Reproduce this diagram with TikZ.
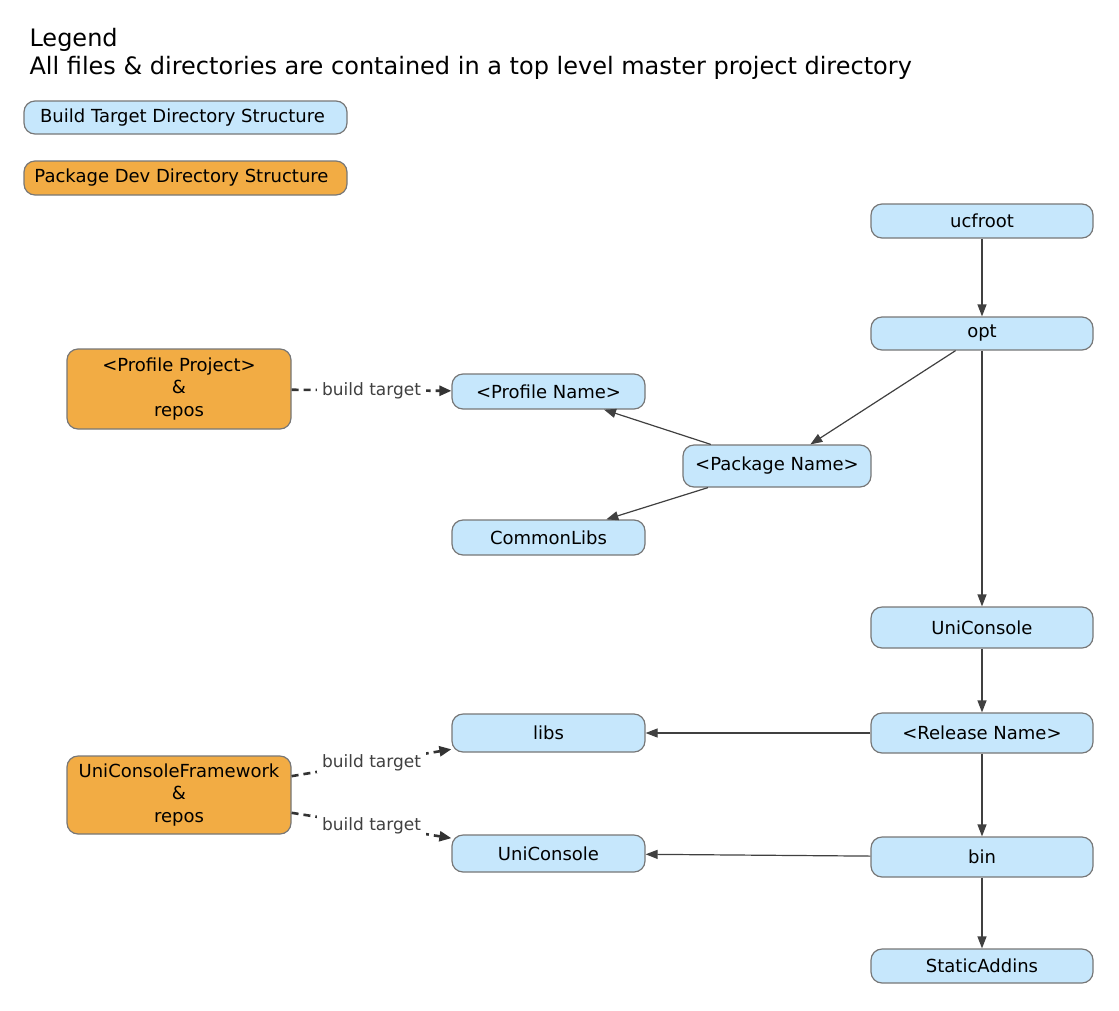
\documentclass[tikz,border=0pt]{standalone}
\usepackage{fontspec}
\setmainfont{DejaVu Sans}
\usetikzlibrary{arrows.meta}
\definecolor{dirblue}{RGB}{198,231,252}
\definecolor{devorange}{RGB}{242,172,68}
\definecolor{boxline}{RGB}{119,119,119}
\definecolor{edgegray}{RGB}{64,64,64}
\definecolor{dashgray}{RGB}{51,51,51}

\begin{document}
\begin{tikzpicture}[x=1pt,y=-1pt,
    dirbox/.style={draw=boxline,line width=1.2pt,fill=dirblue,rounded corners=11pt,
      minimum width=222pt,minimum height=34pt,inner sep=0pt,align=center,
      font=\fontsize{18}{22.5}\selectfont},
    devbox/.style={dirbox,fill=devorange,minimum width=224pt},
    tree/.style={draw=edgegray,line width=1.2pt,-{Triangle[length=12pt,width=9pt]}},
    buildtarget/.style={draw=dashgray,line width=2.6pt,dash pattern=on 7pt off 5pt,
      -{Triangle[length=12pt,width=10pt]}},
    targetlabel/.style={fill=white,text=edgegray,inner xsep=5pt,inner ysep=2pt,
      font=\fontsize{17}{20}\selectfont}]
      \useasboundingbox (0,0) rectangle (1119,1010);

      % legend
      \node [anchor=base west,font=\fontsize{24}{28}\selectfont] (legendtitle) at (26,46) {Legend};
      \node [anchor=base west,font=\fontsize{24}{28}\selectfont] (legendnote) at (26,74.5)
        {All files \& directories are contained in a top level master project directory};
      \node [dirbox,minimum width=323pt,minimum height=33pt] (legendblue) at (185.5,117.5) {Build Target Directory Structure\hspace{6pt}};
      \node [devbox,minimum width=323pt,minimum height=34pt] (legendorange) at (185.5,178) {Package Dev Directory Structure\hspace{8pt}};

      % build target tree
      \node [dirbox] (ucfroot) at (982,221) {ucfroot};
      \node [dirbox,minimum height=33pt] (opt) at (982,333.5) {opt};
      \node [dirbox,minimum width=188pt,minimum height=42pt] (pkgname) at (777,466) {<Package Name>};
      \node [dirbox,minimum width=193pt,minimum height=35pt] (profname) at (548.5,391.5) {<Profile Name>};
      \node [dirbox,minimum width=193pt,minimum height=35pt] (commonlibs) at (548.5,537.5) {CommonLibs};
      \node [dirbox,minimum height=41pt] (uniconsole) at (982,627.5) {UniConsole};
      \node [dirbox,minimum height=40pt] (relname) at (982,733) {<Release Name>};
      \node [dirbox,minimum width=193pt,minimum height=38pt] (libs) at (548.5,733) {libs};
      \node [dirbox,minimum height=40pt] (bin) at (982,857) {bin};
      \node [dirbox,minimum width=193pt,minimum height=37pt] (binconsole) at (548.5,853.5) {UniConsole};
      \node [dirbox] (staticaddins) at (982,966) {StaticAddins};

      % package dev directories
      \node [devbox,minimum height=80pt] (profproject) at (179,389) {<Profile Project>\\\&\\repos};
      \node [devbox,minimum height=78pt] (framework) at (179,795) {UniConsoleFramework\\\&\\repos};

      \draw [tree] (ucfroot) -- (opt);
      \draw [tree] (opt) -- (pkgname);
      \draw [tree] (opt) -- (uniconsole);
      \draw [tree] (pkgname) -- (profname);
      \draw [tree] (pkgname) -- (commonlibs);
      \draw [tree] (uniconsole) -- (relname);
      \draw [tree] (relname) -- (libs);
      \draw [tree] (relname) -- (bin);
      \draw [tree] (bin) -- (binconsole);
      \draw [tree] (bin) -- (staticaddins);

      \draw [buildtarget] (profproject) -- node [targetlabel] {build target} (profname);
      \draw [buildtarget] (framework) -- node [targetlabel] {build target} (libs);
      \draw [buildtarget] (framework) -- node [targetlabel] {build target} (binconsole);
    \end{tikzpicture}
\end{document}
